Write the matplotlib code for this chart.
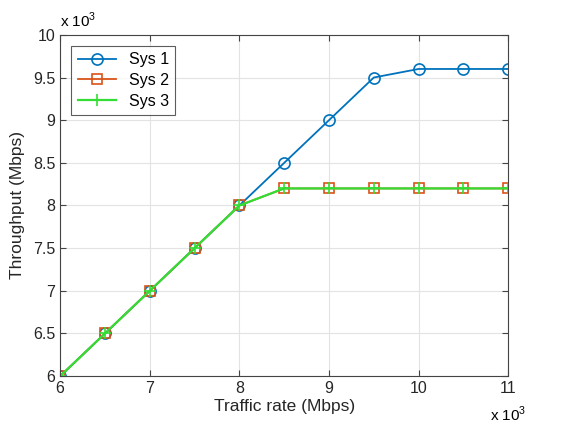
import numpy as np
import matplotlib
matplotlib.use('Agg')
import matplotlib.pyplot as plt
from matplotlib.ticker import FuncFormatter

plt.rcParams['font.family'] = ['Liberation Sans', 'DejaVu Sans']
plt.rcParams['mathtext.fontset'] = 'custom'
plt.rcParams['mathtext.rm'] = 'Liberation Sans'

# traffic rate (Mbps)
rate = [6000, 6500, 7000, 7500, 8000, 8500, 9000, 9500, 10000, 10500, 11000]
sys1 = [6000, 6500, 7000, 7500, 8000, 8500, 9000, 9500, 9600, 9600, 9600]
sys2 = [6000, 6500, 7000, 7500, 8000, 8200, 8200, 8200, 8200, 8200, 8200]
sys3 = [6000, 6500, 7000, 7500, 8000, 8200, 8200, 8200, 8200, 8200, 8200]

fig = plt.figure(figsize=(5.73, 4.25), dpi=100)
ax = fig.add_axes([0.105, 0.115, 0.782, 0.803])

ax.plot(rate, sys1, '-o', color='#0072BD', lw=1.3, ms=8, mfc='none', mew=1.2, label='Sys 1')
ax.plot(rate, sys2, '-s', color='#D95319', lw=1.3, ms=7, mfc='none', mew=1.2, label='Sys 2')
ax.plot(rate, sys3, '-+', color='#33DD33', lw=1.6, ms=8, mew=1.2, label='Sys 3')

ax.set_xlim(6000, 11000)
ax.set_ylim(6000, 10000)
ax.set_xticks(np.arange(6000, 11001, 1000))
ax.set_yticks(np.arange(6000, 10001, 500))
fmt = FuncFormatter(lambda v, p: ('%g' % (v / 1000)))
ax.xaxis.set_major_formatter(fmt)
ax.yaxis.set_major_formatter(fmt)
ax.tick_params(labelsize=11.5, direction='in', top=True, right=True, length=4,
               color='#444444', labelcolor='#262626')
for s in ax.spines.values():
    s.set_color('#444444')
ax.grid(True, color='#e3e3e3', lw=0.8)

ax.set_xlabel('Traffic rate (Mbps)', fontsize=12.5, labelpad=2, color='#262626')
ax.set_ylabel('Throughput (Mbps)', fontsize=12.5, labelpad=6, color='#262626')

ax.text(0.0, 1.015, r'x 10$^3$', transform=ax.transAxes, fontsize=11, ha='left', va='bottom')
ax.text(1.0, -0.085, r'x 10$^3$', transform=ax.transAxes, fontsize=11, ha='center', va='top')

leg = ax.legend(loc='upper left', fontsize=11.5, fancybox=False, edgecolor='#333333',
                borderaxespad=0.7, handlelength=2.4, labelspacing=0.35)
leg.get_frame().set_linewidth(0.8)

fig.savefig('out.png', dpi=100)
